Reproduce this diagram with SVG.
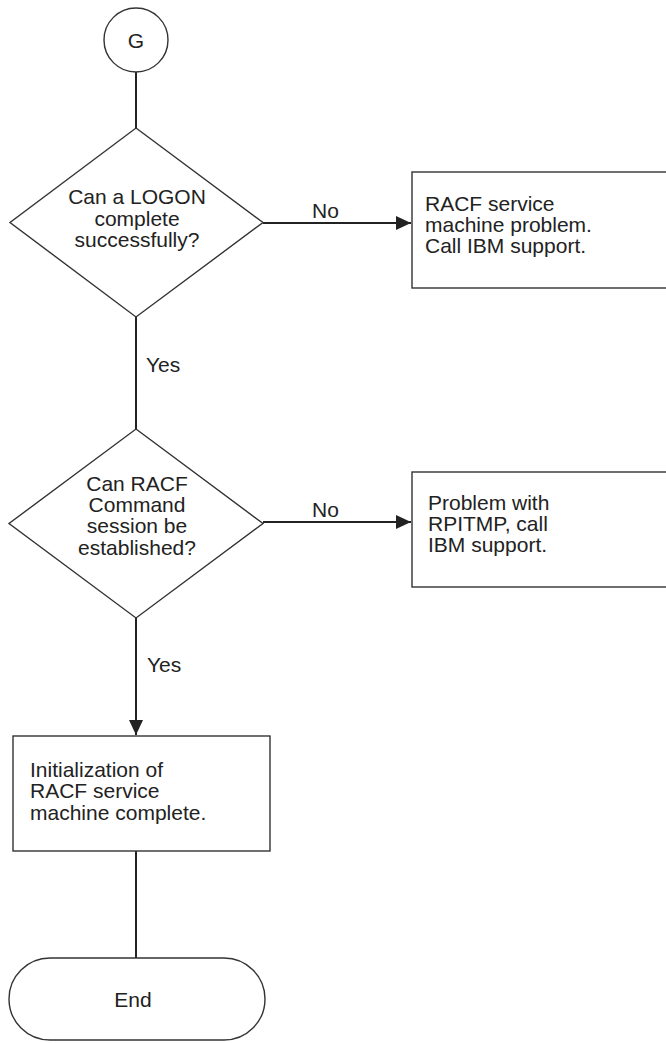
<svg xmlns="http://www.w3.org/2000/svg" width="666" height="1043" viewBox="0 0 666 1043">
<style>
.shape{fill:#fff;stroke:#333;stroke-width:1.4}
.conn{fill:none;stroke:#222;stroke-width:2}
text{font-family:"Liberation Sans",Arial,Helvetica,sans-serif;font-size:21px;fill:#222}
.c{text-anchor:middle}
</style>
<defs>
<marker id="arrow" markerUnits="userSpaceOnUse" markerWidth="16" markerHeight="14" refX="15" refY="7" orient="auto">
<path d="M0,0 L15,7 L0,14 Z" fill="#222"/>
</marker>
</defs>
<rect width="666" height="1043" fill="#fff"/>
<g id="connectors">
<line class="conn" x1="136" y1="72" x2="136" y2="128"/>
<line class="conn" x1="263" y1="223" x2="411" y2="223" marker-end="url(#arrow)"/>
<line class="conn" x1="136" y1="317" x2="136" y2="429"/>
<line class="conn" x1="263" y1="522" x2="411" y2="522" marker-end="url(#arrow)"/>
<line class="conn" x1="136" y1="618" x2="136" y2="735" marker-end="url(#arrow)"/>
<line class="conn" x1="136" y1="851" x2="136" y2="958"/>
<text x="312" y="218">No</text>
<text x="146" y="372">Yes</text>
<text x="312" y="517">No</text>
<text x="147" y="672">Yes</text>
</g>
<g id="start">
<circle class="shape" cx="136" cy="40" r="32"/>
<text class="c" x="136" y="48">G</text>
</g>
<g id="decision1">
<polygon class="shape" points="136,128 263,222.5 136,317 10,222.5"/>
<text class="c" x="137" y="204">Can a LOGON</text>
<text class="c" x="137" y="225.5">complete</text>
<text class="c" x="137" y="247">successfully?</text>
</g>
<g id="box1">
<rect class="shape" x="412" y="172" width="270" height="116"/>
<text x="425" y="211">RACF service</text>
<text x="425" y="232">machine problem.</text>
<text x="425" y="253">Call IBM support.</text>
</g>
<g id="decision2">
<polygon class="shape" points="136,429 263,523.5 136,618 9,523.5"/>
<text class="c" x="137" y="491">Can RACF</text>
<text class="c" x="137" y="512">Command</text>
<text class="c" x="137" y="533">session be</text>
<text class="c" x="137" y="555">established?</text>
</g>
<g id="box2">
<rect class="shape" x="412" y="472" width="270" height="115"/>
<text x="428" y="510">Problem with</text>
<text x="428" y="531">RPITMP, call</text>
<text x="428" y="552">IBM support.</text>
</g>
<g id="box3">
<rect class="shape" x="13" y="736" width="257" height="115"/>
<text x="30" y="777">Initialization of</text>
<text x="30" y="798">RACF service</text>
<text x="30" y="820">machine complete.</text>
</g>
<g id="end">
<rect class="shape" x="9" y="958" width="256" height="82" rx="41" ry="41"/>
<text class="c" x="133" y="1007">End</text>
</g>
</svg>
